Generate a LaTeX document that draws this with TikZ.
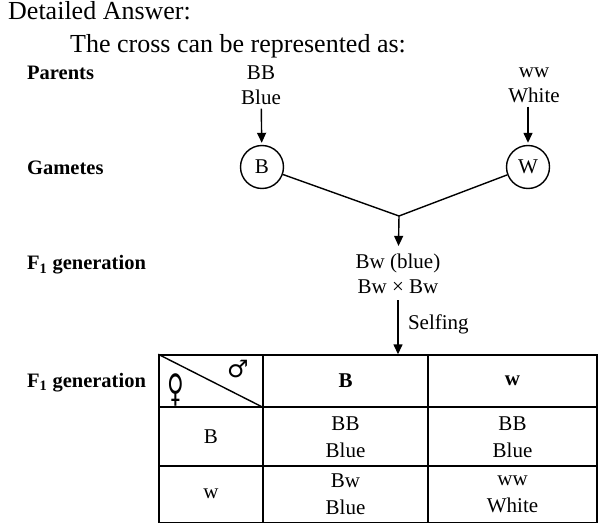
\documentclass[tikz,border=0pt]{standalone}
\usepackage{fontspec}
\setmainfont{Liberation Serif}
\newfontfamily\symfont{DejaVu Sans}
\usepackage{xcolor}
\usepackage{tikz}
\usetikzlibrary{arrows.meta}

\begin{document}
\begin{tikzpicture}[
    x=1pt, y=-1pt,
    txt/.style={align=center, inner sep=0pt, font=\fontsize{21}{25}\selectfont},
    lbl/.style={anchor=base west, inner sep=0pt, font=\fontsize{20.5}{25}\selectfont\bfseries},
    head/.style={anchor=base west, inner sep=0pt, font=\fontsize{26}{28}\selectfont},
    gamete/.style={circle, draw, line width=1.4pt, minimum size=43pt, inner sep=0pt, font=\fontsize{21}{25}\selectfont},
    cell/.style={rectangle, draw, line width=1.4pt, inner sep=0pt, align=center, font=\fontsize{21}{27}\selectfont},
    arrow/.style={-{Triangle[length=10pt,width=9pt]}, line width=1.4pt},
    link/.style={line width=1.4pt}
]
    \useasboundingbox (0,0) rectangle (613,529);

    % Heading
    \node[head] (ans) at (8,20) {Detailed Answer:};
    \node[head] (intro) at (70,53) {The cross can be represented as:};

    % Left labels
    \node[lbl] (lpar) at (27,80) {Parents};
    \node[lbl] (lgam) at (27,175) {Gametes};
    \node[lbl] (lfa) at (27,270) {F\textsubscript{1} generation};
    \node[lbl] (lfb) at (27,387) {F\textsubscript{1} generation};

    % Parents and gametes
    \node[txt] (pB) at (261,85) {BB\\Blue};
    \node[txt] (pW) at (534,85) {ww\\White};
    \node[gamete] (gB) at (262,167) {B};
    \node[gamete] (gW) at (528,167) {W};
    \coordinate (join) at (399,216);

    % F1
    \node[txt] (fone) at (398,274) {Bw (blue)\\Bw × Bw};

    % Table
    \node[cell, minimum width=104pt, minimum height=52pt] (corner) at (211,381) {};
    \node[cell, minimum width=165pt, minimum height=52pt, font=\fontsize{21}{27}\selectfont\bfseries] (hB) at (345.5,381) {B};
    \node[cell, minimum width=169pt, minimum height=52pt, font=\fontsize{21}{27}\selectfont\bfseries] (hw) at (512.5,381) {w};
    \node[cell, minimum width=104pt, minimum height=59pt] (rB) at (211,437) {B};
    \node[cell, minimum width=165pt, minimum height=59pt] (cBB) at (345.5,437) {BB\\Blue};
    \node[cell, minimum width=169pt, minimum height=59pt] (cBw) at (512.5,437) {BB\\Blue};
    \node[cell, minimum width=104pt, minimum height=57pt] (rw) at (211,494) {w};
    \node[cell, minimum width=165pt, minimum height=57pt] (cwB) at (345.5,494) {Bw\\Blue};
    \node[cell, minimum width=169pt, minimum height=57pt] (cww) at (512.5,494) {ww\\White};
    \node[inner sep=0pt, font=\symfont\fontsize{38}{38}\selectfont] (fem) at (176,390) {\scalebox{0.6}[1]{♀}};
    \node[inner sep=0pt, font=\symfont\fontsize{24}{24}\selectfont] (mal) at (238,369) {♂};
    \draw[link] (corner.north west) -- (corner.south east);

    \draw[arrow, shorten <=4pt, shorten >=2pt] (pB) -- (gB);
    \draw[arrow, shorten <=4pt, shorten >=2pt] (gW |- pW.south) -- (gW);
    \draw[link] (gB) -- (join);
    \draw[link] (gW) -- (join);
    \draw[arrow, shorten >=8pt] (join) -- (fone);
    \draw[arrow, shorten <=6pt] (fone.south) -- (fone.south |- hB.north)
        node[midway, right, xshift=6pt, font=\fontsize{21}{25}\selectfont] {Selfing};
\end{tikzpicture}
\end{document}
